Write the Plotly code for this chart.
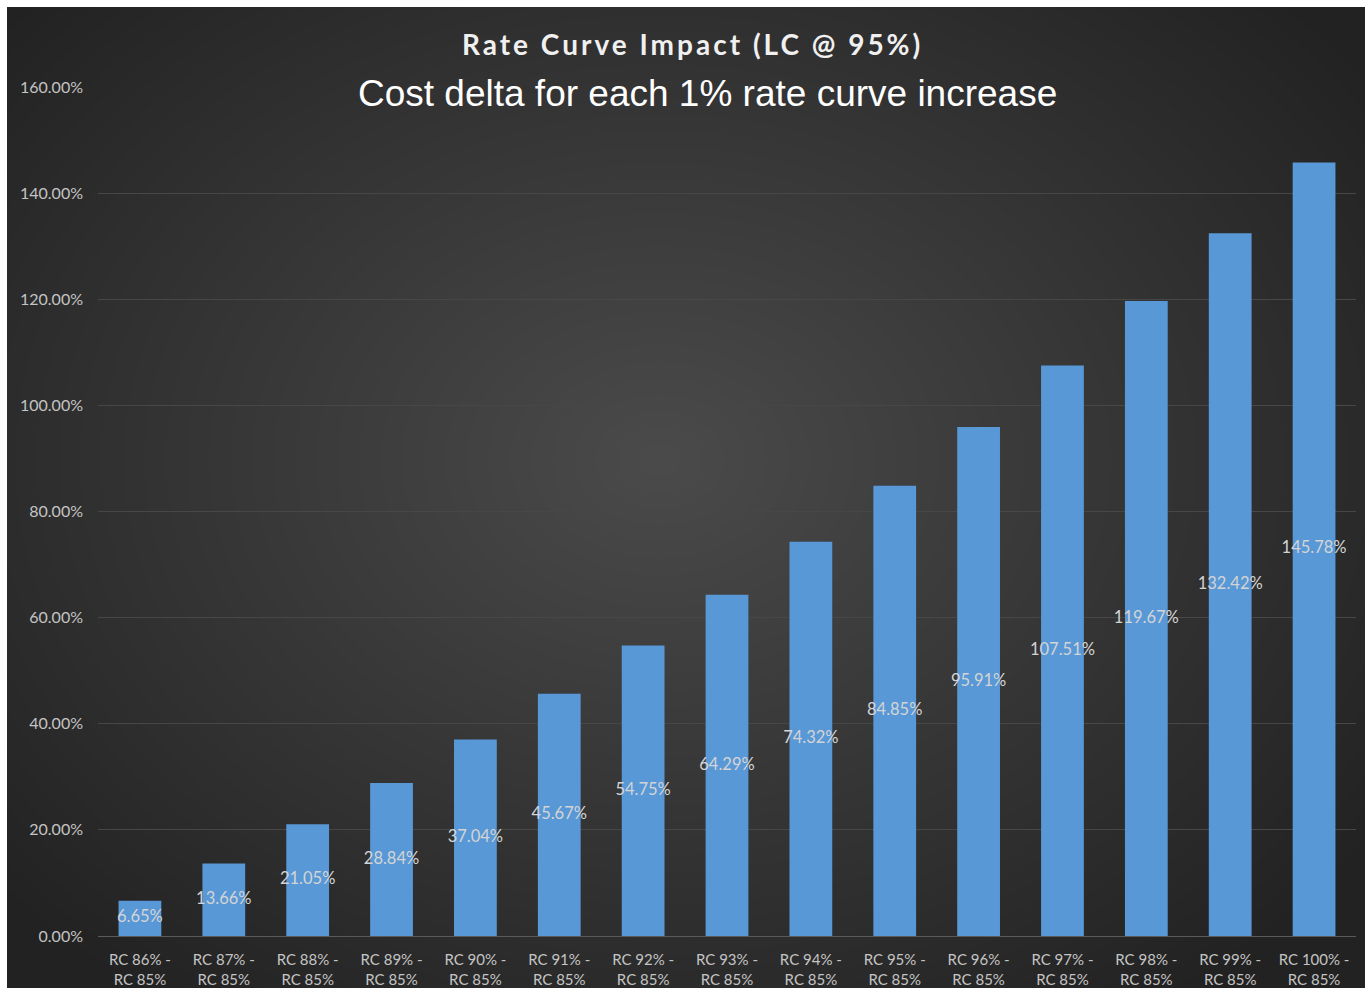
import plotly.graph_objects as go

categories = [f"RC {p}% -<br>RC 85%" for p in range(86, 101)]
values = [6.65, 13.66, 21.05, 28.84, 37.04, 45.67, 54.75, 64.29, 74.32, 84.85,
          95.91, 107.51, 119.67, 132.42, 145.78]
value_labels = [f"{v:.2f}%" for v in values]
y_ticks = [0, 20, 40, 60, 80, 100, 120, 140, 160]

W, H = 1365, 988
L, R, T, B = 98, 9, 87, 52
pw, ph = W - L - R, H - T - B

def px_x(x):
    return (x - L) / pw

def px_y(y):
    return (H - B - y) / ph

shapes = [dict(type="rect", xref="paper", yref="paper", layer="below",
               x0=px_x(7), x1=px_x(W + 2), y0=px_y(H + 2), y1=px_y(7),
               fillcolor="#222222", line=dict(width=0))]
cx, cy = 660, 460
n = 40
for i in range(n):
    f = 1 - i / n
    rx, ry = 860 * f, 660 * f
    shapes.append(dict(type="circle", xref="paper", yref="paper", layer="below",
                       x0=px_x(cx - rx), x1=px_x(cx + rx),
                       y0=px_y(cy + ry), y1=px_y(cy - ry),
                       fillcolor="rgba(255,255,255,0.0075)", line=dict(width=0)))

fig = go.Figure()
fig.add_trace(go.Bar(
    x=categories, y=values,
    marker=dict(color="#5898d6", line=dict(width=0)),
    width=0.51, hoverinfo="skip",
))
fig.add_trace(go.Scatter(
    x=categories, y=[v / 2 for v in values], mode="text",
    text=value_labels, textposition="middle center",
    textfont=dict(family="Lato", size=16.5, color="#d4d4d4"),
    hoverinfo="skip",
))

fig.update_layout(
    width=W, height=H,
    margin=dict(l=L, r=R, t=T, b=B, pad=0),
    paper_bgcolor="#ffffff", plot_bgcolor="rgba(0,0,0,0)",
    showlegend=False, shapes=shapes,
    xaxis=dict(type="category", range=[-0.5, 14.5], showgrid=False,
               showline=True, linecolor="#5a5a5a", linewidth=1, ticks="",
               tickfont=dict(family="Lato", size=15, color="#c4c4c4"),
               ticklabelstandoff=10, zeroline=False, automargin=False),
    yaxis=dict(range=[0, 160], tickvals=y_ticks,
               ticktext=[f"{v:.2f}%" for v in y_ticks],
               showgrid=True, gridcolor="#474747", gridwidth=1,
               zeroline=False, showline=False, ticks="",
               tickfont=dict(family="Lato", size=16, color="#c4c4c4"),
               ticklabelstandoff=14, automargin=False),
    annotations=[
        dict(xref="paper", yref="paper", x=px_x(692), y=px_y(44),
             text='<span style="letter-spacing:3px">Rate Curve Impact (LC @ 95%)</span>',
             showarrow=False, xanchor="center", yanchor="middle",
             font=dict(family="Lato", size=28, color="#f0f0f0", weight="bold")),
        dict(xref="paper", yref="paper", x=px_x(707), y=px_y(94),
             text="Cost delta for each 1% rate curve increase",
             showarrow=False, xanchor="center", yanchor="middle",
             font=dict(family="Liberation Sans", size=37, color="#ffffff")),
    ],
)

fig.write_html("out.html")
